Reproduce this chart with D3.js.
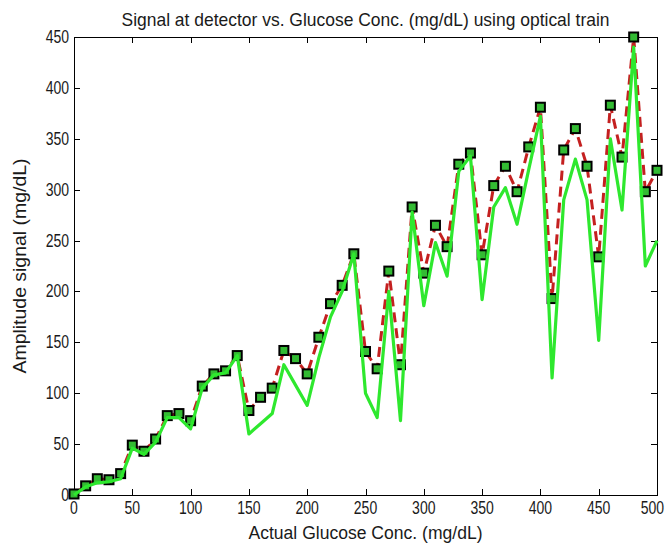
<!DOCTYPE html>
<html>
<head>
<meta charset="utf-8">
<script src="https://cdn.jsdelivr.net/npm/d3@7"></script>
<style>
  html, body { margin: 0; padding: 0; background: #fff; }
  svg { display: block; }
  text { font-family: "Liberation Sans", Arial, sans-serif; fill: #1a1a1a; }
</style>
</head>
<body>
<svg id="chart" width="670" height="546"></svg>
<script>
// Glucose concentration steps (mg/dL)
const concentrations = d3.range(0, 501, 10);

// Detector amplitude with markers (red dashed)
const detectorSignal = [
  1, 9, 16, 15, 21, 49, 43, 55, 78, 80,
  73, 107, 119, 122, 137, 83, 96, 105, 142, 134,
  119, 155, 188, 206, 237, 141, 124, 220, 128, 283,
  218, 265, 244, 325, 336, 236, 304, 323, 298, 342,
  381, 193, 339, 360, 323, 234, 383, 332, 450, 298,
  319
];

// Amplitude through the optical train (green solid)
const opticalSignal = [
  0, 8, 12, 13, 16, 46, 40, 52, 76, 76,
  65, 105, 118, 120, 137, 60, 70, 80, 128, 108,
  88, 135, 175, 200, 237, 100, 76, 200, 73, 278,
  186, 248, 215, 318, 333, 192, 283, 302, 266, 320,
  372, 115, 290, 330, 290, 152, 350, 280, 440, 225,
  250
];

const xTicks = d3.range(0, 501, 50);
const yTicks = d3.range(0, 451, 50);

const W = 670, H = 546;
const plot = { left: 74, right: 657, top: 37, bottom: 495 };

const svg = d3.select("#chart");

const x = d3.scaleLinear().domain([0, 500]).range([plot.left, plot.right]);
const y = d3.scaleLinear().domain([0, 450]).range([plot.bottom, plot.top]);

// Axis box
svg.append("rect")
  .attr("x", plot.left + 0.5).attr("y", plot.top + 0.5)
  .attr("width", plot.right - plot.left).attr("height", plot.bottom - plot.top)
  .attr("fill", "#fff").attr("stroke", "#000").attr("stroke-width", 1);

// Inward ticks on all four sides
const tickLen = 6;
const g = svg.append("g").attr("stroke", "#000").attr("stroke-width", 1);
xTicks.forEach(t => {
  const px = Math.round(x(t)) + 0.5;
  g.append("line").attr("x1", px).attr("x2", px).attr("y1", plot.bottom).attr("y2", plot.bottom - tickLen);
  g.append("line").attr("x1", px).attr("x2", px).attr("y1", plot.top).attr("y2", plot.top + tickLen);
});
yTicks.forEach(t => {
  const py = Math.round(y(t)) + 0.5;
  g.append("line").attr("x1", plot.left).attr("x2", plot.left + tickLen).attr("y1", py).attr("y2", py);
  g.append("line").attr("x1", plot.right).attr("x2", plot.right - tickLen).attr("y1", py).attr("y2", py);
});

// Tick labels, slightly condensed; keep the last x label inside the page
const condense = (sel, k) => sel.each(function () {
  const w = this.getComputedTextLength();
  d3.select(this).attr("textLength", w * k).attr("lengthAdjust", "spacingAndGlyphs");
});
svg.append("g").selectAll("text").data(xTicks).join("text")
  .attr("x", d => x(d)).attr("y", plot.bottom + 19)
  .attr("text-anchor", "middle").attr("font-size", 17.5)
  .text(d => d)
  .each(function () {
    const w = this.getComputedTextLength();
    const cx = +this.getAttribute("x");
    if (cx + w / 2 > W - 3) this.setAttribute("x", W - 3 - w / 2);
  })
  .call(condense, 0.8);
svg.append("g").selectAll("text").data(yTicks).join("text")
  .attr("x", plot.left - 5).attr("y", d => y(d) + 6)
  .attr("text-anchor", "end").attr("font-size", 17.5)
  .text(d => d)
  .call(condense, 0.8);

// Series
svg.append("defs").append("clipPath").attr("id", "plotclip")
  .append("rect").attr("x", plot.left - 6).attr("y", plot.top - 6)
  .attr("width", plot.right - plot.left + 12).attr("height", plot.bottom - plot.top + 12);

const line = d3.line().x((d, i) => x(concentrations[i])).y(d => y(d));
const series = svg.append("g").attr("clip-path", "url(#plotclip)");

series.append("path").datum(detectorSignal)
  .attr("d", line).attr("fill", "none")
  .attr("stroke", "#c42020").attr("stroke-width", 3)
  .attr("stroke-dasharray", "10,6");

series.selectAll("rect.marker").data(detectorSignal).join("rect")
  .attr("class", "marker")
  .attr("x", (d, i) => x(concentrations[i]) - 4.5)
  .attr("y", d => y(d) - 4.5)
  .attr("width", 9).attr("height", 9)
  .attr("fill", "#33bb33").attr("stroke", "#000").attr("stroke-width", 2);

series.append("path").datum(opticalSignal)
  .attr("d", line).attr("fill", "none")
  .attr("stroke", "#2ee82e").attr("stroke-width", 3.2)
  .attr("stroke-linejoin", "round");

// Titles
const midX = (plot.left + plot.right) / 2;
svg.append("text").attr("x", midX).attr("y", 26)
  .attr("text-anchor", "middle").attr("font-size", 19)
  .attr("textLength", 488).attr("lengthAdjust", "spacingAndGlyphs")
  .text("Signal at detector vs. Glucose Conc. (mg/dL) using optical train");
svg.append("text").attr("x", midX).attr("y", 539)
  .attr("text-anchor", "middle").attr("font-size", 18)
  .attr("textLength", 234).attr("lengthAdjust", "spacingAndGlyphs")
  .text("Actual Glucose Conc. (mg/dL)");
svg.append("text")
  .attr("transform", `translate(26, ${(plot.top + plot.bottom) / 2}) rotate(-90)`)
  .attr("text-anchor", "middle").attr("font-size", 18)
  .attr("textLength", 215).attr("lengthAdjust", "spacingAndGlyphs")
  .text("Amplitude signal (mg/dL)");
</script>
</body>
</html>
